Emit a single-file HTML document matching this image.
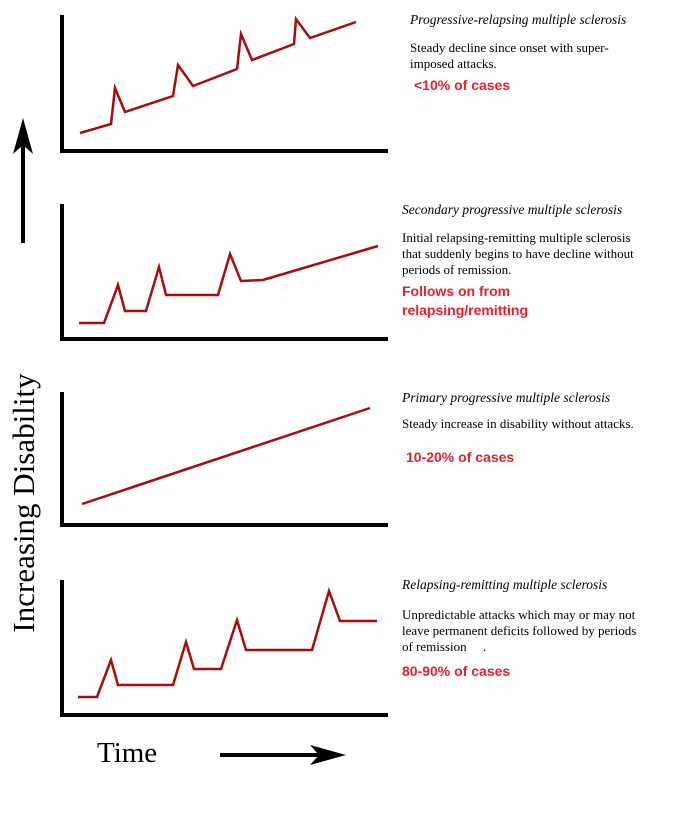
<!DOCTYPE html>
<html><head><meta charset="utf-8"><style>
body{margin:0;background:#fff;width:675px;height:823px;overflow:hidden;position:relative;font-family:"Liberation Serif",serif}
.t{position:absolute;font-size:13px;line-height:16px;color:#000;white-space:nowrap}
.i{font-style:italic;font-size:13.5px}
.r{font-family:"Liberation Sans",sans-serif;font-weight:bold;color:#e8202a;font-size:14px;line-height:19px}
</style></head><body>
<svg id="chart" width="675" height="823" style="position:absolute;left:0;top:0">
<text transform="translate(34,503) rotate(-90)" text-anchor="middle" font-family="Liberation Serif" font-size="31">Increasing Disability</text>
<text x="97" y="762" font-family="Liberation Serif" font-size="29">Time</text>
<g><line x1="23" y1="243" x2="23" y2="140" stroke="#000" stroke-width="4"/><polygon points="23,118 13,154 23,145 33,154" fill="#000"/></g>
<g><line x1="220" y1="755" x2="325" y2="755" stroke="#000" stroke-width="4"/><polygon points="346,755 310,745 319,755 310,765" fill="#000"/></g>
</svg>
<div class="t i" style="left:410px;top:12px">Progressive-relapsing multiple sclerosis</div>
<div class="t" style="left:410px;top:40px">Steady decline since onset with super-<br>imposed attacks.</div>
<div class="t r" style="left:414px;top:76px">&lt;10% of cases</div>
<div class="t i" style="left:402px;top:202px">Secondary progressive multiple sclerosis</div>
<div class="t" style="left:402px;top:230px">Initial relapsing-remitting multiple sclerosis<br>that suddenly begins to have decline without<br>periods of remission.</div>
<div class="t r" style="left:402px;top:282px">Follows on from<br>relapsing/remitting</div>
<div class="t i" style="left:402px;top:390px">Primary progressive multiple sclerosis</div>
<div class="t" style="left:402px;top:416px">Steady increase in disability without attacks.</div>
<div class="t r" style="left:406px;top:448px">10-20% of cases</div>
<div class="t i" style="left:402px;top:577px">Relapsing-remitting multiple sclerosis</div>
<div class="t" style="left:402px;top:607px">Unpredictable attacks which may or may not<br>leave permanent deficits followed by periods<br>of remission&nbsp;&nbsp;&nbsp;&nbsp;&nbsp;.</div>
<div class="t r" style="left:402px;top:662px">80-90% of cases</div>
<script>
// time values (x) and disability values (y) per panel
const prTime=[18,49,53,63,111,116,131,175,179,190,232,234,248,294];
const prDis=[18,27,63,39,55,86,65,82,117,91,107,132,113,129];
const spTime=[17,42,56,63,84,97,104,156,168,179,201,316];
const spDis=[16,16,54,28,28,72,44,44,85,58,59,93];
const ppTime=[20,308];
const ppDis=[21,117];
const rrTime=[16,35,49,56,111,124,132,159,175,184,250,267,278,315];
const rrDis=[18,18,55,30,30,73,46,46,95,65,65,124,94,94];
const panels=[
 {name:'progressive-relapsing',top:15,bottom:151,t:prTime,d:prDis},
 {name:'secondary-progressive',top:204,bottom:339,t:spTime,d:spDis},
 {name:'primary-progressive',top:392,bottom:525,t:ppTime,d:ppDis},
 {name:'relapsing-remitting',top:580,bottom:715,t:rrTime,d:rrDis}
];
const NS='http://www.w3.org/2000/svg';
const svg=document.getElementById('chart');
const x0=62;
const xScale=t=>x0+t;
panels.forEach(p=>{
 const yScale=v=>p.bottom-v;
 const ax=document.createElementNS(NS,'path');
 ax.setAttribute('d',`M${x0},${p.top} L${x0},${p.bottom} L388,${p.bottom}`);
 ax.setAttribute('fill','none');ax.setAttribute('stroke','#000');ax.setAttribute('stroke-width','4');
 
 
 svg.appendChild(ax);
 const ln=document.createElementNS(NS,'polyline');
 ln.setAttribute('points',p.t.map((t,i)=>xScale(t)+','+yScale(p.d[i])).join(' '));
 ln.setAttribute('fill','none');ln.setAttribute('stroke','#a80c0c');ln.setAttribute('stroke-width','2.5');
 
 
 svg.appendChild(ln);
});
</script>
</body></html>
